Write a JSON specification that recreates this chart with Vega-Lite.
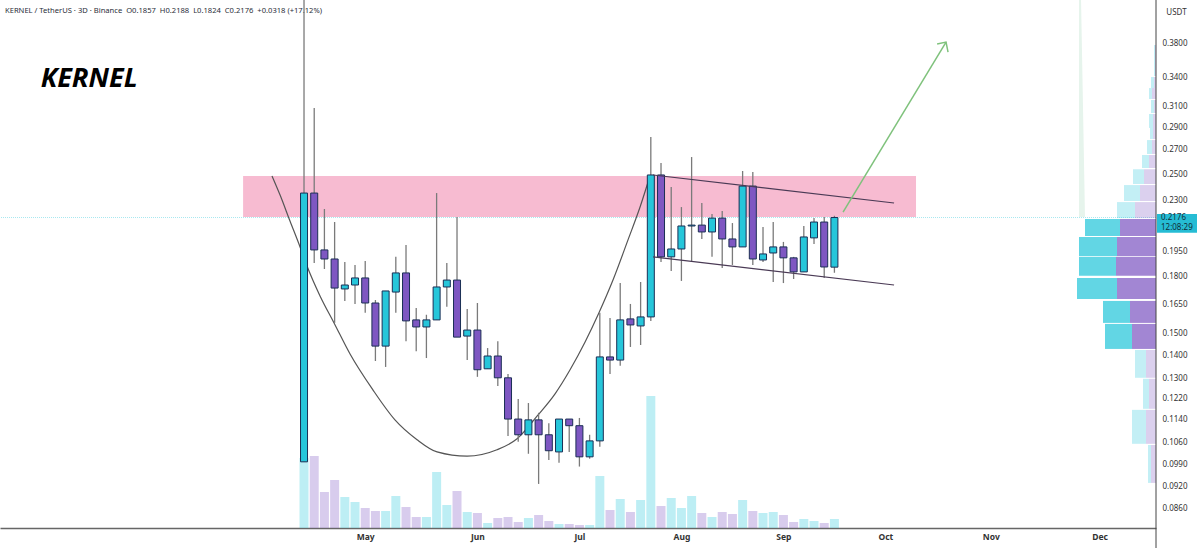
{
  "$schema": "https://vega.github.io/schema/vega-lite/v6.json",
  "width": 1156,
  "height": 528,
  "autosize": "none",
  "padding": {"left": 0, "top": 0, "right": 43, "bottom": 20},
  "background": "white",
  "config": {"view": {"stroke": null}, "font": "Noto Sans"},
  "datasets": {
    "candles": [
      {"date": "2025-04-13T00:00", "open": 0.0997, "high": 0.46, "low": 0.0997, "close": 0.2353, "volume": 70, "direction": "up"},
      {"date": "2025-04-16T00:00", "open": 0.2353, "high": 0.3088, "low": 0.1882, "close": 0.1962, "volume": 72, "direction": "down"},
      {"date": "2025-04-19T00:00", "open": 0.1962, "high": 0.2236, "low": 0.1846, "close": 0.1906, "volume": 36, "direction": "down"},
      {"date": "2025-04-22T00:00", "open": 0.1906, "high": 0.2145, "low": 0.1554, "close": 0.1737, "volume": 48, "direction": "down"},
      {"date": "2025-04-25T00:00", "open": 0.1732, "high": 0.1888, "low": 0.1667, "close": 0.1754, "volume": 31, "direction": "up"},
      {"date": "2025-04-28T00:00", "open": 0.1754, "high": 0.187, "low": 0.1651, "close": 0.1794, "volume": 26, "direction": "up"},
      {"date": "2025-05-01T00:00", "open": 0.1794, "high": 0.1894, "low": 0.1605, "close": 0.1656, "volume": 20, "direction": "down"},
      {"date": "2025-05-04T00:00", "open": 0.1656, "high": 0.1672, "low": 0.1376, "close": 0.1443, "volume": 17, "direction": "down"},
      {"date": "2025-05-07T00:00", "open": 0.1443, "high": 0.1721, "low": 0.135, "close": 0.1721, "volume": 17, "direction": "up"},
      {"date": "2025-05-10T00:00", "open": 0.1715, "high": 0.1919, "low": 0.1605, "close": 0.1823, "volume": 32, "direction": "up"},
      {"date": "2025-05-13T00:00", "open": 0.1823, "high": 0.1993, "low": 0.1466, "close": 0.1564, "volume": 21, "direction": "down"},
      {"date": "2025-05-16T00:00", "open": 0.1569, "high": 0.163, "low": 0.142, "close": 0.1534, "volume": 11, "direction": "down"},
      {"date": "2025-05-19T00:00", "open": 0.1534, "high": 0.1595, "low": 0.1389, "close": 0.1569, "volume": 11, "direction": "up"},
      {"date": "2025-05-22T00:00", "open": 0.1569, "high": 0.2353, "low": 0.1569, "close": 0.1743, "volume": 56, "direction": "up"},
      {"date": "2025-05-25T00:00", "open": 0.1743, "high": 0.1882, "low": 0.1636, "close": 0.1782, "volume": 23, "direction": "up"},
      {"date": "2025-05-28T00:00", "open": 0.1782, "high": 0.2179, "low": 0.1485, "close": 0.1485, "volume": 37, "direction": "down"},
      {"date": "2025-05-31T00:00", "open": 0.149, "high": 0.1625, "low": 0.138, "close": 0.1519, "volume": 16, "direction": "up"},
      {"date": "2025-06-03T00:00", "open": 0.1519, "high": 0.1656, "low": 0.1308, "close": 0.1338, "volume": 15, "direction": "down"},
      {"date": "2025-06-06T00:00", "open": 0.1342, "high": 0.1434, "low": 0.1342, "close": 0.1398, "volume": 5, "direction": "up"},
      {"date": "2025-06-09T00:00", "open": 0.1398, "high": 0.1466, "low": 0.127, "close": 0.1304, "volume": 10, "direction": "down"},
      {"date": "2025-06-12T00:00", "open": 0.1304, "high": 0.132, "low": 0.1083, "close": 0.1143, "volume": 11, "direction": "down"},
      {"date": "2025-06-15T00:00", "open": 0.1143, "high": 0.1219, "low": 0.1063, "close": 0.1087, "volume": 6, "direction": "down"},
      {"date": "2025-06-18T00:00", "open": 0.1087, "high": 0.1203, "low": 0.1023, "close": 0.114, "volume": 10, "direction": "up"},
      {"date": "2025-06-21T00:00", "open": 0.114, "high": 0.1166, "low": 0.0929, "close": 0.1087, "volume": 13, "direction": "down"},
      {"date": "2025-06-24T00:00", "open": 0.1087, "high": 0.1128, "low": 0.1003, "close": 0.1033, "volume": 7, "direction": "down"},
      {"date": "2025-06-27T00:00", "open": 0.1029, "high": 0.1143, "low": 0.0994, "close": 0.1143, "volume": 4, "direction": "up"},
      {"date": "2025-06-30T00:00", "open": 0.1143, "high": 0.1143, "low": 0.1029, "close": 0.1119, "volume": 4, "direction": "down"},
      {"date": "2025-07-03T00:00", "open": 0.1119, "high": 0.1147, "low": 0.0982, "close": 0.1013, "volume": 3, "direction": "down"},
      {"date": "2025-07-06T00:00", "open": 0.1013, "high": 0.1087, "low": 0.1007, "close": 0.1066, "volume": 3, "direction": "up"},
      {"date": "2025-07-09T00:00", "open": 0.1066, "high": 0.1605, "low": 0.1046, "close": 0.1394, "volume": 52, "direction": "up"},
      {"date": "2025-07-12T00:00", "open": 0.1394, "high": 0.1579, "low": 0.132, "close": 0.138, "volume": 18, "direction": "down"},
      {"date": "2025-07-15T00:00", "open": 0.138, "high": 0.1765, "low": 0.1355, "close": 0.1569, "volume": 29, "direction": "up"},
      {"date": "2025-07-18T00:00", "open": 0.1574, "high": 0.1651, "low": 0.1439, "close": 0.1544, "volume": 16, "direction": "down"},
      {"date": "2025-07-21T00:00", "open": 0.1539, "high": 0.1771, "low": 0.1448, "close": 0.1584, "volume": 28, "direction": "up"},
      {"date": "2025-07-24T00:00", "open": 0.1584, "high": 0.2815, "low": 0.1564, "close": 0.2493, "volume": 132, "direction": "up"},
      {"date": "2025-07-27T00:00", "open": 0.2493, "high": 0.259, "low": 0.1888, "close": 0.1919, "volume": 22, "direction": "down"},
      {"date": "2025-07-30T00:00", "open": 0.1919, "high": 0.2399, "low": 0.1835, "close": 0.1968, "volume": 30, "direction": "up"},
      {"date": "2025-08-02T00:00", "open": 0.1968, "high": 0.225, "low": 0.1777, "close": 0.2118, "volume": 20, "direction": "up"},
      {"date": "2025-08-05T00:00", "open": 0.2124, "high": 0.264, "low": 0.1894, "close": 0.2118, "volume": 32, "direction": "up"},
      {"date": "2025-08-08T00:00", "open": 0.2124, "high": 0.2279, "low": 0.2032, "close": 0.2078, "volume": 15, "direction": "down"},
      {"date": "2025-08-11T00:00", "open": 0.2078, "high": 0.22, "low": 0.1919, "close": 0.2172, "volume": 11, "direction": "up"},
      {"date": "2025-08-14T00:00", "open": 0.2172, "high": 0.2222, "low": 0.1852, "close": 0.2032, "volume": 16, "direction": "down"},
      {"date": "2025-08-17T00:00", "open": 0.2032, "high": 0.2138, "low": 0.187, "close": 0.1981, "volume": 14, "direction": "down"},
      {"date": "2025-08-20T00:00", "open": 0.1981, "high": 0.2525, "low": 0.1981, "close": 0.2406, "volume": 28, "direction": "up"},
      {"date": "2025-08-23T00:00", "open": 0.2406, "high": 0.2516, "low": 0.187, "close": 0.1906, "volume": 17, "direction": "down"},
      {"date": "2025-08-26T00:00", "open": 0.19, "high": 0.2111, "low": 0.1888, "close": 0.1937, "volume": 15, "direction": "up"},
      {"date": "2025-08-29T00:00", "open": 0.1943, "high": 0.2145, "low": 0.1771, "close": 0.1981, "volume": 16, "direction": "up"},
      {"date": "2025-09-01T00:00", "open": 0.1981, "high": 0.2013, "low": 0.1765, "close": 0.1913, "volume": 13, "direction": "down"},
      {"date": "2025-09-04T00:00", "open": 0.1913, "high": 0.1919, "low": 0.1788, "close": 0.1829, "volume": 6, "direction": "down"},
      {"date": "2025-09-07T00:00", "open": 0.1829, "high": 0.2118, "low": 0.1829, "close": 0.2045, "volume": 9, "direction": "up"},
      {"date": "2025-09-10T00:00", "open": 0.2039, "high": 0.2172, "low": 0.2, "close": 0.2145, "volume": 7, "direction": "up"},
      {"date": "2025-09-13T00:00", "open": 0.2145, "high": 0.2179, "low": 0.1794, "close": 0.1858, "volume": 5, "direction": "down"},
      {"date": "2025-09-16T00:00", "open": 0.1857, "high": 0.2188, "low": 0.1824, "close": 0.2176, "volume": 9, "direction": "up"}
    ],
    "cup": [
      {"date": "2025-04-03T14:00", "price": 0.2485},
      {"date": "2025-04-05T23:00", "price": 0.2338},
      {"date": "2025-04-08T21:00", "price": 0.2152},
      {"date": "2025-04-11T20:00", "price": 0.1981},
      {"date": "2025-04-13T21:00", "price": 0.1864},
      {"date": "2025-04-17T17:00", "price": 0.1694},
      {"date": "2025-04-21T20:00", "price": 0.1554},
      {"date": "2025-04-26T13:00", "price": 0.1407},
      {"date": "2025-05-03T07:00", "price": 0.1254},
      {"date": "2025-05-09T18:00", "price": 0.114},
      {"date": "2025-05-16T06:00", "price": 0.107},
      {"date": "2025-05-22T03:00", "price": 0.1029},
      {"date": "2025-05-30T23:00", "price": 0.1015},
      {"date": "2025-06-08T18:00", "price": 0.1036},
      {"date": "2025-06-14T16:00", "price": 0.1073},
      {"date": "2025-06-20T20:00", "price": 0.1158},
      {"date": "2025-06-25T20:00", "price": 0.1239},
      {"date": "2025-06-30T06:00", "price": 0.1338},
      {"date": "2025-07-04T16:00", "price": 0.1462},
      {"date": "2025-07-08T18:00", "price": 0.1605},
      {"date": "2025-07-12T21:00", "price": 0.1782},
      {"date": "2025-07-17T07:00", "price": 0.2026},
      {"date": "2025-07-20T20:00", "price": 0.225},
      {"date": "2025-07-23T18:00", "price": 0.2485}
    ],
    "channel": [
      {"line": "upper", "date": "2025-07-24T16:00", "price": 0.2493},
      {"line": "upper", "date": "2025-10-03T13:00", "price": 0.2279},
      {"line": "lower", "date": "2025-07-24T16:00", "price": 0.1919},
      {"line": "lower", "date": "2025-10-03T13:00", "price": 0.1754}
    ],
    "arrow": [
      {"part": "shaft", "order": 1, "date": "2025-09-18T13:00", "price": 0.2214},
      {"part": "shaft", "order": 2, "date": "2025-10-18T20:00", "price": 0.3812},
      {"part": "head", "order": 1, "date": "2025-10-16T05:00", "price": 0.3788},
      {"part": "head", "order": 2, "date": "2025-10-18T20:00", "price": 0.3812},
      {"part": "head", "order": 3, "date": "2025-10-19T10:00", "price": 0.3692}
    ],
    "profile": [
      {"lo": 0.342, "hi": 0.3776, "base": 0, "down": 1, "total": 2, "zone": "other"},
      {"lo": 0.3291, "hi": 0.3409, "base": 0, "down": 2, "total": 5, "zone": "other"},
      {"lo": 0.3178, "hi": 0.3291, "base": 0, "down": 4, "total": 7, "zone": "other"},
      {"lo": 0.3039, "hi": 0.3168, "base": 0, "down": 2, "total": 5, "zone": "other"},
      {"lo": 0.2897, "hi": 0.3029, "base": 0, "down": 3, "total": 7, "zone": "other"},
      {"lo": 0.2796, "hi": 0.2897, "base": 0, "down": 3, "total": 6, "zone": "other"},
      {"lo": 0.2666, "hi": 0.2787, "base": 0, "down": 4, "total": 9, "zone": "other"},
      {"lo": 0.2549, "hi": 0.2657, "base": 0, "down": 7, "total": 14, "zone": "other"},
      {"lo": 0.2422, "hi": 0.2539, "base": 0, "down": 12, "total": 23, "zone": "other"},
      {"lo": 0.2294, "hi": 0.2414, "base": 0, "down": 16, "total": 32, "zone": "other"},
      {"lo": 0.2172, "hi": 0.2286, "base": 0, "down": 21, "total": 39, "zone": "other"},
      {"lo": 0.2052, "hi": 0.2165, "base": 0, "down": 36, "total": 71, "zone": "value"},
      {"lo": 0.1925, "hi": 0.2045, "base": 0, "down": 39, "total": 77, "zone": "value"},
      {"lo": 0.1806, "hi": 0.1919, "base": 0, "down": 40, "total": 77, "zone": "value"},
      {"lo": 0.1677, "hi": 0.1794, "base": 0, "down": 39, "total": 79, "zone": "value"},
      {"lo": 0.1554, "hi": 0.1667, "base": 0, "down": 26, "total": 53, "zone": "value"},
      {"lo": 0.143, "hi": 0.1549, "base": 0, "down": 24, "total": 51, "zone": "value"},
      {"lo": 0.1304, "hi": 0.1425, "base": 0, "down": 10, "total": 21, "zone": "other"},
      {"lo": 0.1181, "hi": 0.13, "base": 0, "down": 7, "total": 13, "zone": "other"},
      {"lo": 0.1056, "hi": 0.1177, "base": 0, "down": 10, "total": 24, "zone": "other"},
      {"lo": 0.0932, "hi": 0.1052, "base": 0, "down": 5, "total": 8, "zone": "other"}
    ],
    "spike": [
      {"price": 0.44, "left": 77, "right": 75},
      {"price": 0.2179, "left": 77, "right": 71}
    ]
  },
  "layer": [
    {
      "data": {"name": "candles"},
      "mark": {"type": "bar", "size": 9, "opacity": 0.3},
      "encoding": {
        "x": {
          "field": "date",
          "type": "temporal",
          "axis": null,
          "scale": {"domain": [{"year": 2025, "month": 1, "date": 13, "hours": 14}, {"year": 2025, "month": 12, "date": 19, "hours": 14}], "nice": false, "padding": 0}
        },
        "y": {"field": "volume", "type": "quantitative", "axis": null, "scale": {"domain": [0, 528], "nice": false}},
        "color": {
          "field": "direction",
          "type": "nominal",
          "legend": null,
          "scale": {"domain": ["up", "down"], "range": ["#26C6DA", "#7E57C2"]}
        }
      }
    },
    {
      "layer": [
        {
          "data": {"values": [{"from": "2025-03-26T02:00", "to": "2025-10-10T00:00", "lo": 0.2179, "hi": 0.2485}]},
          "mark": {"type": "rect", "color": "#F7BBD1"},
          "encoding": {
            "x": {"field": "from", "type": "temporal"},
            "x2": {"field": "to"},
            "y": {"field": "lo", "type": "quantitative"},
            "y2": {"field": "hi"}
          }
        },
        {
          "data": {"values": [{"price": 0.2176}]},
          "mark": {"type": "rule", "color": "#26C6DA", "strokeDash": [1, 1], "opacity": 0.4},
          "encoding": {"y": {"field": "price", "type": "quantitative"}}
        },
        {
          "data": {"values": [{"label": "KERNEL / TetherUS · 3D · Binance\u00a0\u00a0O0.1857\u00a0\u00a0H0.2188\u00a0\u00a0L0.1824\u00a0\u00a0C0.2176\u00a0\u00a0+0.0318 (+17.12%)", "date": "2025-01-15T01:00", "price": 0.4183}]},
          "mark": {"type": "text", "align": "left", "baseline": "alphabetic", "font": "Noto Sans", "fontSize": 7.6, "color": "#2a2e39"},
          "encoding": {
            "x": {"field": "date", "type": "temporal"},
            "y": {"field": "price", "type": "quantitative"},
            "text": {"field": "label"}
          }
        },
        {
          "data": {"values": [{"label": "KERNEL", "date": "2025-01-25T13:00", "price": 0.3302}]},
          "mark": {"type": "text", "align": "left", "baseline": "alphabetic", "font": "Noto Sans", "fontSize": 27, "fontWeight": "bold", "fontStyle": "italic", "color": "#000000"},
          "encoding": {
            "x": {"field": "date", "type": "temporal"},
            "y": {"field": "price", "type": "quantitative"},
            "text": {"field": "label"}
          }
        },
        {
          "data": {"name": "cup"},
          "mark": {"type": "line", "interpolate": "monotone", "color": "#555555", "strokeWidth": 1.2},
          "encoding": {
            "x": {"field": "date", "type": "temporal"},
            "y": {"field": "price", "type": "quantitative"}
          }
        },
        {
          "data": {"name": "candles"},
          "mark": {"type": "rule", "color": "#7a7a7a", "strokeWidth": 1.3, "clip": true},
          "encoding": {
            "x": {"field": "date", "type": "temporal"},
            "y": {"field": "low", "type": "quantitative"},
            "y2": {"field": "high"}
          }
        },
        {
          "data": {"name": "candles"},
          "mark": {"type": "bar", "size": 7, "stroke": "#1B2F55", "strokeWidth": 1},
          "encoding": {
            "x": {
              "field": "date",
              "type": "temporal",
              "scale": {"domain": [{"year": 2025, "month": 1, "date": 13, "hours": 14}, {"year": 2025, "month": 12, "date": 19, "hours": 14}], "nice": false, "padding": 0},
              "axis": {
                "title": null,
                "values": [
                  {"year": 2025, "month": 5, "date": 1},
                  {"year": 2025, "month": 6, "date": 3},
                  {"year": 2025, "month": 7, "date": 3},
                  {"year": 2025, "month": 8, "date": 2},
                  {"year": 2025, "month": 9, "date": 1},
                  {"year": 2025, "month": 10, "date": 1},
                  {"year": 2025, "month": 11, "date": 1},
                  {"year": 2025, "month": 12, "date": 3}
                ],
                "format": "%b",
                "ticks": false,
                "grid": false,
                "domainColor": "#666666",
                "domainWidth": 1.5,
                "labelFont": "Noto Sans",
                "labelFontSize": 8.5,
                "labelFontWeight": "bold",
                "labelColor": "#333333",
                "labelPadding": 4,
                "labelOverlap": false
              }
            },
            "y": {
              "field": "open",
              "type": "quantitative",
              "scale": {"type": "log", "domain": [0.0807, 0.436], "nice": false},
              "axis": {
                "orient": "right",
                "title": "USDT",
                "titleAngle": 0,
                "titleX": 20,
                "titleY": 16,
                "titleFont": "Noto Sans",
                "titleFontSize": 8,
                "titleFontWeight": "normal",
                "titleColor": "#333333",
                "values": [0.38, 0.34, 0.31, 0.29, 0.27, 0.25, 0.23, 0.195, 0.18, 0.165, 0.15, 0.14, 0.13, 0.122, 0.114, 0.106, 0.099, 0.092, 0.086],
                "format": ".4f",
                "ticks": false,
                "grid": false,
                "domain": false,
                "labelFont": "Noto Sans",
                "labelFontSize": 8,
                "labelColor": "#333333",
                "labelPadding": 6,
                "labelOverlap": false
              }
            },
            "y2": {"field": "close"},
            "color": {"field": "direction", "type": "nominal", "legend": null}
          }
        },
        {
          "data": {"name": "channel"},
          "mark": {"type": "line", "color": "#4a3a55", "strokeWidth": 1.1},
          "encoding": {
            "x": {"field": "date", "type": "temporal"},
            "y": {"field": "price", "type": "quantitative"},
            "detail": {"field": "line"}
          }
        },
        {
          "data": {"name": "arrow"},
          "mark": {"type": "line", "color": "#7FC27C", "strokeWidth": 1.5},
          "encoding": {
            "x": {"field": "date", "type": "temporal"},
            "y": {"field": "price", "type": "quantitative"},
            "detail": {"field": "part"},
            "order": {"field": "order"}
          }
        }
      ]
    },
    {
      "layer": [
        {
          "data": {"name": "profile"},
          "mark": {"type": "rect", "color": "#7E57C2"},
          "encoding": {
            "x": {
              "field": "base",
              "type": "quantitative",
              "axis": null,
              "scale": {"domain": [0, 1156], "reverse": true, "nice": false, "zero": false}
            },
            "x2": {"field": "down"},
            "y": {
              "field": "lo",
              "type": "quantitative",
              "axis": null,
              "scale": {"type": "log", "domain": [0.0807, 0.436], "nice": false}
            },
            "y2": {"field": "hi"},
            "opacity": {
              "field": "zone",
              "type": "nominal",
              "legend": null,
              "scale": {"domain": ["value", "other"], "range": [0.72, 0.28]}
            }
          }
        },
        {
          "data": {"name": "profile"},
          "mark": {"type": "rect", "color": "#26C6DA"},
          "encoding": {
            "x": {"field": "down", "type": "quantitative"},
            "x2": {"field": "total"},
            "y": {"field": "lo", "type": "quantitative"},
            "y2": {"field": "hi"},
            "opacity": {"field": "zone", "type": "nominal", "legend": null}
          }
        },
        {
          "data": {"name": "spike"},
          "mark": {"type": "area", "orient": "horizontal", "color": "#E6F4EC"},
          "encoding": {
            "y": {"field": "price", "type": "quantitative"},
            "x": {"field": "left", "type": "quantitative"},
            "x2": {"field": "right"}
          }
        },
        {
          "data": {"values": [{"price": 0.436, "end": 0.0757, "x": 0}]},
          "mark": {"type": "rule", "color": "#444444", "strokeWidth": 1, "clip": false},
          "encoding": {
            "x": {"field": "x", "type": "quantitative"},
            "y": {"field": "price", "type": "quantitative"},
            "y2": {"field": "end"}
          }
        },
        {
          "data": {"values": [{"from": -1, "to": -41, "hi": 0.22, "lo": 0.2072}]},
          "mark": {"type": "rect", "color": "#26BCD4", "clip": false},
          "encoding": {
            "x": {"field": "from", "type": "quantitative"},
            "x2": {"field": "to"},
            "y": {"field": "hi", "type": "quantitative"},
            "y2": {"field": "lo"}
          }
        },
        {
          "data": {"values": [{"label": "0.2176", "x": -5, "price": 0.2172}, {"label": "12:08:29", "x": -5, "price": 0.2105}]},
          "mark": {"type": "text", "align": "left", "baseline": "middle", "font": "Noto Sans", "fontSize": 8, "color": "#10303a", "clip": false},
          "encoding": {
            "x": {"field": "x", "type": "quantitative"},
            "y": {"field": "price", "type": "quantitative"},
            "text": {"field": "label"}
          }
        }
      ]
    }
  ],
  "resolve": {"scale": {"x": "independent", "y": "independent"}}
}
